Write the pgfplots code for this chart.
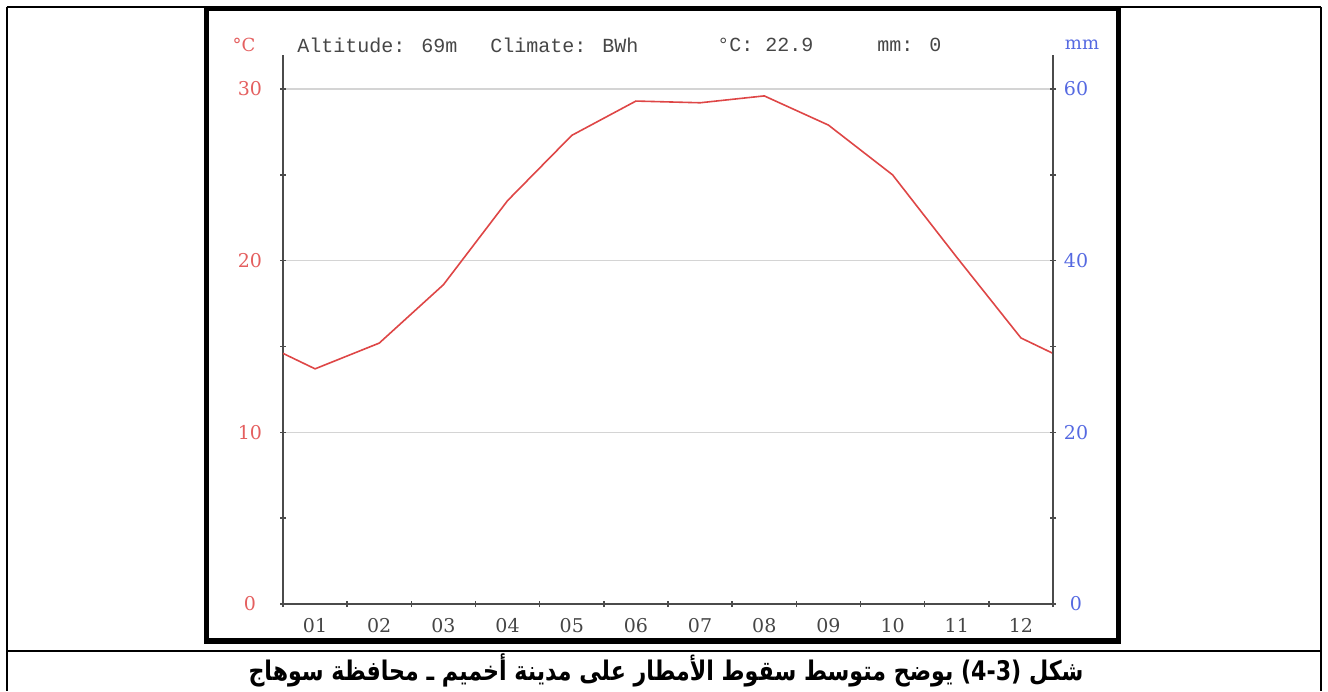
\documentclass[border=0pt]{standalone}
\usepackage{fontspec}
\usepackage{pgfplots}
\pgfplotsset{compat=1.18}
\TeXXeTstate=1
\setmainfont{DejaVu Serif}
\newfontfamily\monofont{Liberation Mono}
\newfontfamily\arabicfont[Script=Arabic, FakeStretch=0.82]{DejaVu Sans}
\definecolor{tred}{RGB}{228,95,95}
\definecolor{lred}{RGB}{222,70,70}
\definecolor{tblue}{RGB}{85,105,225}
\definecolor{axgray}{RGB}{75,75,75}
\definecolor{gridgray}{RGB}{212,212,212}
\definecolor{txtgray}{RGB}{70,70,70}
\begin{document}
\begin{tikzpicture}
\useasboundingbox (0,0) rectangle (664pt,-345.5pt);
\begin{axis}[
  at={(141.5pt,-302pt)}, anchor=south west,
  scale only axis, width=385pt, height=274.65pt,
  xmin=0.5, xmax=12.5, ymin=0, ymax=32,
  axis x line=bottom, axis y line=left,
  axis line style={-, draw=axgray, line width=0.8pt},
  xtick={1,...,12},
  xticklabels={01,02,03,04,05,06,07,08,09,10,11,12},
  minor xtick={0.5,1.5,...,12.5},
  ytick={0,10,20,30}, minor ytick={5,15,25},
  tick align=center,
  major tick length=3pt, minor tick length=3pt,
  major x tick style={draw=none},
  minor x tick style={draw=axgray, line width=0.8pt},
  major y tick style={draw=axgray, line width=0.8pt},
  minor y tick style={draw=axgray, line width=0.8pt},
  ymajorgrids, grid style={gridgray, line width=0.6pt},
  /pgf/number format/assume math mode=true,
  xticklabel style={text=txtgray, font=\fontsize{9.5}{9.5}\selectfont, yshift=-2pt},
  yticklabel style={text=tred, font=\fontsize{9.5}{9.5}\selectfont, anchor=center, xshift=-15pt},
]
\addplot[lred, line width=0.8pt] coordinates {
(0.5,14.6) (1,13.7) (2,15.2) (3,18.6) (4,23.5) (5,27.3) (6,29.3)
(7,29.2) (8,29.6) (9,27.9) (10,25.0) (11,20.2) (12,15.5) (12.5,14.6)};
\end{axis}
\begin{axis}[
  at={(141.5pt,-302pt)}, anchor=south west,
  scale only axis, width=385pt, height=274.65pt,
  xmin=0.5, xmax=12.5, ymin=0, ymax=64,
  axis x line=none, axis y line=right,
  axis line style={-, draw=axgray, line width=0.8pt},
  ytick={0,20,40,60}, minor ytick={10,30,50},
  tick align=center,
  major tick length=3pt, minor tick length=3pt,
  major y tick style={draw=axgray, line width=0.8pt},
  minor y tick style={draw=axgray, line width=0.8pt},
  /pgf/number format/assume math mode=true,
  yticklabel style={text=tblue, font=\fontsize{9.5}{9.5}\selectfont, anchor=center, xshift=10pt},
]
\end{axis}
\begin{scope}[x=0.5pt,y=-0.5pt]
\node[anchor=west, text=txtgray, font=\monofont\fontsize{10}{10}\selectfont, inner sep=0pt] at (297,45) {Altitude: 69m};
\node[anchor=west, text=txtgray, font=\monofont\fontsize{10}{10}\selectfont, inner sep=0pt] at (490,45) {Climate: BWh};
\node[anchor=west, text=txtgray, font=\monofont\fontsize{10}{10}\selectfont, inner sep=0pt] at (717,45) {°C: 22.9};
\node[anchor=west, text=txtgray, font=\monofont\fontsize{10}{10}\selectfont, inner sep=0pt] at (877,45) {mm: 0};
\node[text=tred, font=\fontsize{9}{9}\selectfont, inner sep=0pt] at (244,45) {°C};
\node[text=tblue, font=\fontsize{9}{9}\selectfont, inner sep=0pt] at (1082,45) {mm};
\draw[black, line width=2.6pt] (206.5,8.5) rectangle (1118.5,641);
\draw[black, line width=1pt] (6.5,7) -- (1321,7);
\draw[black, line width=1pt] (6.5,7) -- (6.5,691);
\draw[black, line width=1pt] (1321,7) -- (1321,691);
\draw[black, line width=1pt] (6.5,650.5) -- (1321,650.5);
\node[font=\arabicfont\bfseries\fontsize{13.5}{13.5}\selectfont, inner sep=0pt] at (666,670) {\beginR شكل \beginL(4-3)\endL{} يوضح متوسط سقوط الأمطار على مدينة أخميم ـ محافظة سوهاج\endR};
\end{scope}
\end{tikzpicture}
\end{document}
